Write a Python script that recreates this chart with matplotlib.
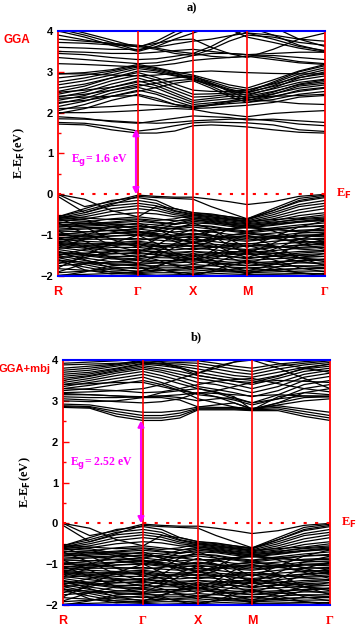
import numpy as np
import matplotlib
matplotlib.use("Agg")
import matplotlib.pyplot as plt

# high symmetry points along the path
kpt_labels = ["R", "Γ", "X", "M", "Γ"]
kpt_dist = [0.0, 0.30, 0.506, 0.708, 1.0]

# band energies (eV) read at R, 1/3, 2/3, Γ, 1/3, 2/3, X, 1/3, 2/3, M, 1/3, 2/3, Γ
valence = [
    [0.00, -0.30, -0.18, -0.02, -0.05, -0.07, -0.07, -0.12, -0.18, -0.25, -0.18, -0.05, 0.00],
    [-0.05, -0.45, -0.25, -0.05, -0.08, -0.10, -0.12, -0.30, -0.45, -0.60, -0.35, -0.10, -0.02],
    [0.00, -0.12, -0.40, -0.55, -0.30, -0.35, -0.45, -0.48, -0.55, -0.62, -0.40, -0.15, -0.05],
    [-0.55, -0.35, -0.15, -0.08, -0.15, -0.35, -0.45, -0.50, -0.55, -0.60, -0.40, -0.18, -0.08],
    [-0.55, -0.40, -0.22, -0.15, -0.22, -0.40, -0.48, -0.52, -0.58, -0.62, -0.45, -0.25, -0.15],
    [-0.58, -0.45, -0.28, -0.22, -0.28, -0.42, -0.50, -0.55, -0.60, -0.65, -0.50, -0.30, -0.22],
    [-0.60, -0.50, -0.35, -0.28, -0.34, -0.46, -0.52, -0.58, -0.62, -0.68, -0.55, -0.38, -0.28],
    [-0.62, -0.55, -0.42, -0.35, -0.40, -0.50, -0.55, -0.60, -0.65, -0.70, -0.60, -0.45, -0.35],
    [-0.65, -0.60, -0.50, -0.45, -0.48, -0.55, -0.58, -0.62, -0.68, -0.72, -0.65, -0.52, -0.45],
    [-0.70, -0.68, -0.60, -0.55, -0.60, -0.65, -0.62, -0.66, -0.72, -0.78, -0.70, -0.60, -0.55],
    [-0.75, -0.72, -0.68, -0.62, -0.68, -0.72, -0.70, -0.72, -0.78, -0.82, -0.76, -0.68, -0.62],
    [-0.80, -0.78, -0.75, -0.72, -0.75, -0.80, -0.75, -0.78, -0.85, -0.90, -0.82, -0.75, -0.70],
    [-0.85, -0.82, -0.80, -0.80, -0.82, -0.85, -0.80, -0.85, -0.90, -0.95, -0.88, -0.80, -0.78],
    [-0.90, -0.92, -0.88, -0.85, -0.90, -0.92, -0.88, -0.92, -0.98, -1.00, -0.95, -0.88, -0.85],
    [-0.95, -0.98, -0.95, -0.92, -0.96, -1.00, -0.95, -1.00, -1.05, -1.08, -1.02, -0.95, -0.92],
    [-1.00, -1.05, -1.02, -1.00, -1.05, -1.08, -1.02, -1.08, -1.12, -1.15, -1.08, -1.02, -1.00],
    [-1.05, -1.10, -1.10, -1.08, -1.12, -1.15, -1.10, -1.15, -1.20, -1.22, -1.15, -1.10, -1.08],
    [-1.10, -1.15, -1.18, -1.15, -1.20, -1.22, -1.18, -1.22, -1.25, -1.28, -1.22, -1.18, -1.15],
    [-1.15, -1.20, -1.25, -1.22, -1.26, -1.30, -1.25, -1.28, -1.32, -1.35, -1.30, -1.25, -1.22],
    [-1.20, -1.25, -1.30, -1.30, -1.34, -1.36, -1.32, -1.35, -1.40, -1.42, -1.38, -1.32, -1.30],
    [-1.25, -1.32, -1.38, -1.38, -1.40, -1.42, -1.40, -1.42, -1.45, -1.48, -1.45, -1.40, -1.38],
    [-1.30, -1.38, -1.45, -1.45, -1.48, -1.50, -1.45, -1.50, -1.52, -1.55, -1.52, -1.48, -1.45],
    [-1.35, -1.45, -1.52, -1.52, -1.55, -1.56, -1.52, -1.56, -1.60, -1.62, -1.58, -1.55, -1.52],
    [-1.40, -1.50, -1.58, -1.60, -1.62, -1.62, -1.58, -1.62, -1.66, -1.68, -1.65, -1.62, -1.60],
    [-1.45, -1.56, -1.65, -1.68, -1.68, -1.68, -1.65, -1.68, -1.72, -1.75, -1.72, -1.68, -1.68],
    [-1.50, -1.62, -1.72, -1.75, -1.75, -1.75, -1.72, -1.75, -1.78, -1.80, -1.78, -1.75, -1.75],
    [-1.55, -1.68, -1.78, -1.82, -1.80, -1.80, -1.78, -1.82, -1.85, -1.86, -1.84, -1.82, -1.82],
    [-1.60, -1.72, -1.85, -1.88, -1.86, -1.86, -1.85, -1.88, -1.90, -1.92, -1.90, -1.88, -1.88],
    [-1.65, -1.78, -1.90, -1.94, -1.92, -1.92, -1.90, -1.93, -1.95, -1.96, -1.95, -1.94, -1.94],
    [-0.60, -0.80, -1.10, -1.30, -1.10, -0.85, -0.70, -0.85, -1.10, -1.30, -1.05, -0.80, -0.65],
    [-1.20, -1.00, -0.80, -0.70, -0.85, -1.05, -1.20, -1.05, -0.85, -0.75, -0.90, -1.10, -1.25],
    [-1.80, -1.50, -1.20, -1.00, -1.20, -1.45, -1.60, -1.40, -1.15, -1.00, -1.25, -1.55, -1.75],
    [-1.05, -1.30, -1.55, -1.70, -1.50, -1.30, -1.15, -1.35, -1.55, -1.70, -1.50, -1.25, -1.10],
    [-1.50, -1.35, -1.25, -1.20, -1.35, -1.50, -1.62, -1.50, -1.35, -1.25, -1.40, -1.55, -1.65],
    [-0.70, -0.95, -1.25, -1.40, -1.25, -1.00, -0.85, -1.00, -1.25, -1.45, -1.20, -0.95, -0.80],
    [-1.90, -1.70, -1.55, -1.48, -1.60, -1.75, -1.85, -1.70, -1.55, -1.45, -1.60, -1.80, -1.90],
    [-1.30, -1.10, -0.95, -0.90, -1.00, -1.15, -1.30, -1.15, -1.00, -0.95, -1.05, -1.20, -1.35],
    [-1.60, -1.85, -1.95, -1.90, -1.75, -1.62, -1.55, -1.70, -1.85, -1.95, -1.80, -1.65, -1.58],
    [-0.90, -1.15, -1.40, -1.55, -1.40, -1.20, -1.05, -1.20, -1.40, -1.55, -1.35, -1.10, -0.95],
    [-1.70, -1.55, -1.40, -1.35, -1.45, -1.58, -1.70, -1.60, -1.45, -1.35, -1.50, -1.65, -1.72],
    [-0.80, -0.75, -0.72, -0.75, -0.85, -0.95, -1.00, -0.92, -0.85, -0.80, -0.85, -0.92, -0.95],
    [-1.00, -0.92, -0.88, -0.90, -0.98, -1.10, -1.15, -1.10, -1.00, -0.95, -1.00, -1.08, -1.12],
    [-2.00, -1.90, -1.75, -1.70, -1.80, -1.92, -2.00, -1.88, -1.75, -1.65, -1.78, -1.92, -2.00],
    [-1.40, -1.60, -1.80, -1.90, -1.78, -1.60, -1.45, -1.60, -1.78, -1.88, -1.72, -1.55, -1.45],
    [-0.52, -0.58, -0.62, -0.60, -0.64, -0.60, -0.50, -0.55, -0.62, -0.66, -0.62, -0.58, -0.50],
    [-0.68, -0.72, -0.70, -0.66, -0.70, -0.74, -0.66, -0.70, -0.74, -0.76, -0.72, -0.66, -0.60],
    [-0.88, -0.85, -0.82, -0.78, -0.80, -0.84, -0.90, -0.88, -0.84, -0.82, -0.86, -0.90, -0.88],
    [-0.98, -1.02, -1.08, -1.12, -1.08, -1.02, -0.98, -1.02, -1.08, -1.12, -1.06, -1.00, -0.98],
    [-1.12, -1.08, -1.02, -0.98, -1.02, -1.10, -1.18, -1.12, -1.05, -1.02, -1.08, -1.15, -1.18],
    [-1.22, -1.28, -1.35, -1.40, -1.32, -1.25, -1.20, -1.26, -1.32, -1.38, -1.30, -1.24, -1.20],
    [-1.32, -1.28, -1.22, -1.18, -1.24, -1.30, -1.36, -1.30, -1.24, -1.20, -1.26, -1.34, -1.38],
    [-1.42, -1.48, -1.55, -1.58, -1.52, -1.46, -1.40, -1.46, -1.52, -1.58, -1.50, -1.44, -1.40],
    [-1.55, -1.50, -1.46, -1.42, -1.48, -1.54, -1.58, -1.54, -1.48, -1.44, -1.50, -1.56, -1.60],
    [-1.62, -1.66, -1.70, -1.72, -1.68, -1.64, -1.60, -1.66, -1.70, -1.74, -1.68, -1.62, -1.60],
    [-1.75, -1.70, -1.66, -1.62, -1.66, -1.72, -1.78, -1.74, -1.68, -1.64, -1.70, -1.76, -1.80],
    [-1.82, -1.86, -1.90, -1.92, -1.88, -1.84, -1.80, -1.84, -1.88, -1.90, -1.86, -1.82, -1.80],
    [-1.92, -1.88, -1.82, -1.78, -1.84, -1.90, -1.95, -1.90, -1.84, -1.80, -1.86, -1.92, -1.96],
    [-1.98, -1.96, -1.94, -1.96, -1.98, -1.97, -1.96, -1.98, -1.99, -1.98, -1.97, -1.98, -1.98],
    [-0.56, -0.62, -0.74, -0.85, -0.78, -0.66, -0.58, -0.64, -0.70, -0.74, -0.68, -0.62, -0.58],
    [-0.62, -0.66, -0.80, -0.95, -0.88, -0.72, -0.62, -0.68, -0.75, -0.80, -0.74, -0.68, -0.64],
    [-0.75, -0.80, -0.90, -1.00, -0.92, -0.82, -0.76, -0.80, -0.88, -0.92, -0.85, -0.80, -0.76],
    [-1.08, -1.02, -0.96, -0.94, -1.00, -1.04, -1.06, -1.04, -1.02, -1.05, -1.04, -1.02, -1.04],
    [-1.18, -1.22, -1.20, -1.26, -1.28, -1.24, -1.28, -1.30, -1.28, -1.25, -1.28, -1.30, -1.26],
    [-1.48, -1.44, -1.40, -1.36, -1.42, -1.46, -1.50, -1.46, -1.42, -1.40, -1.44, -1.50, -1.52],
]

conduction_gga = [
    [1.72, 1.70, 1.58, 1.50, 1.50, 1.55, 1.68, 1.70, 1.68, 1.65, 1.58, 1.52, 1.50],
    [1.76, 1.74, 1.66, 1.55, 1.60, 1.68, 1.75, 1.77, 1.76, 1.75, 1.70, 1.58, 1.54],
    [1.85, 1.84, 1.80, 1.76, 1.74, 1.76, 1.80, 1.82, 1.84, 1.85, 1.80, 1.72, 1.68],
    [1.90, 1.86, 1.78, 1.74, 1.80, 1.86, 1.92, 1.90, 1.88, 1.82, 1.84, 1.80, 1.76],
    [1.98, 2.10, 2.30, 2.45, 2.35, 2.20, 2.10, 2.12, 2.15, 2.18, 2.25, 2.38, 2.42],
    [2.05, 2.20, 2.40, 2.55, 2.45, 2.28, 2.15, 2.18, 2.22, 2.25, 2.32, 2.45, 2.52],
    [2.15, 2.28, 2.48, 2.62, 2.50, 2.35, 2.20, 2.24, 2.28, 2.30, 2.40, 2.52, 2.60],
    [2.22, 2.35, 2.55, 2.70, 2.60, 2.42, 2.25, 2.30, 2.34, 2.35, 2.46, 2.60, 2.68],
    [2.30, 2.42, 2.62, 2.78, 2.66, 2.48, 2.30, 2.35, 2.40, 2.40, 2.52, 2.68, 2.76],
    [2.38, 2.50, 2.70, 2.85, 2.72, 2.55, 2.38, 2.40, 2.45, 2.45, 2.58, 2.74, 2.82],
    [2.45, 2.58, 2.78, 2.92, 2.80, 2.62, 2.45, 2.46, 2.48, 2.50, 2.64, 2.80, 2.90],
    [2.52, 2.65, 2.85, 2.98, 2.86, 2.70, 2.55, 2.52, 2.52, 2.55, 2.70, 2.86, 2.95],
    [2.60, 2.70, 2.85, 3.02, 2.98, 2.90, 2.82, 2.70, 2.55, 2.42, 2.60, 2.85, 3.00],
    [2.68, 2.78, 2.92, 3.08, 3.02, 2.92, 2.85, 2.72, 2.58, 2.48, 2.66, 2.90, 3.05],
    [2.75, 2.85, 2.98, 3.12, 3.05, 2.95, 2.88, 2.76, 2.62, 2.55, 2.72, 2.95, 3.10],
    [2.85, 2.92, 3.02, 3.15, 3.08, 2.98, 2.80, 2.68, 2.55, 2.50, 2.75, 3.00, 3.15],
    [2.95, 2.98, 3.05, 3.18, 3.10, 3.00, 2.92, 2.80, 2.68, 2.60, 2.80, 3.02, 3.18],
    [2.40, 2.45, 2.55, 2.65, 2.72, 2.78, 2.82, 2.65, 2.45, 2.30, 2.45, 2.65, 2.72],
    [2.25, 2.30, 2.40, 2.52, 2.62, 2.72, 2.78, 2.60, 2.40, 2.25, 2.38, 2.55, 2.62],
    [2.50, 2.55, 2.62, 2.75, 2.80, 2.85, 2.90, 2.72, 2.52, 2.35, 2.50, 2.70, 2.80],
    [2.10, 2.12, 2.15, 2.20, 2.18, 2.15, 2.12, 2.18, 2.25, 2.32, 2.28, 2.22, 2.20],
    [2.00, 2.00, 2.02, 2.05, 2.08, 2.10, 2.08, 2.00, 1.95, 1.90, 1.98, 2.02, 2.05],
    [2.35, 2.38, 2.40, 2.42, 2.30, 2.20, 2.15, 2.20, 2.28, 2.38, 2.40, 2.42, 2.45],
    [2.95, 2.95, 2.92, 2.90, 2.92, 2.96, 3.00, 3.02, 3.00, 2.98, 2.96, 2.95, 2.95],
    [3.45, 3.42, 3.35, 3.30, 3.32, 3.38, 3.45, 3.38, 3.35, 3.38, 3.40, 3.35, 3.30],
    [3.50, 3.48, 3.45, 3.45, 3.48, 3.52, 3.55, 3.50, 3.45, 3.42, 3.45, 3.48, 3.48],
    [3.35, 3.30, 3.25, 3.20, 3.22, 3.30, 3.40, 3.45, 3.45, 3.42, 3.35, 3.25, 3.20],
    [4.00, 3.85, 3.65, 3.50, 3.62, 3.80, 3.95, 4.10, 4.20, 4.10, 3.90, 3.65, 3.50],
    [4.05, 3.90, 3.72, 3.52, 3.68, 3.90, 4.10, 4.20, 4.10, 3.95, 3.80, 3.62, 3.52],
    [4.10, 3.95, 3.78, 3.60, 3.75, 3.98, 4.20, 4.25, 4.05, 3.85, 3.72, 3.58, 3.48],
    [3.90, 3.78, 3.68, 3.62, 3.70, 3.78, 3.80, 3.60, 3.45, 3.35, 3.55, 3.80, 3.95],
    [3.80, 3.75, 3.70, 3.65, 3.58, 3.50, 3.45, 3.62, 3.85, 4.05, 4.10, 3.80, 3.62],
    [3.72, 3.70, 3.66, 3.62, 3.55, 3.45, 3.40, 3.55, 3.75, 3.90, 3.85, 3.72, 3.65],
    [3.60, 3.58, 3.55, 3.55, 3.60, 3.68, 3.75, 3.80, 3.88, 3.95, 3.90, 3.80, 3.75],
    [3.20, 3.18, 3.15, 3.12, 3.15, 3.20, 3.28, 3.32, 3.35, 3.38, 3.30, 3.22, 3.18],
]

conduction_mbj = [
    [2.84, 2.82, 2.62, 2.52, 2.52, 2.58, 2.78, 2.78, 2.78, 2.76, 2.76, 2.62, 2.52],
    [2.86, 2.84, 2.68, 2.58, 2.58, 2.64, 2.80, 2.80, 2.80, 2.78, 2.80, 2.68, 2.58],
    [2.88, 2.86, 2.74, 2.64, 2.64, 2.70, 2.82, 2.82, 2.82, 2.80, 2.84, 2.74, 2.64],
    [2.92, 2.90, 2.80, 2.72, 2.72, 2.76, 2.85, 2.84, 2.84, 2.82, 2.88, 2.80, 2.72],
    [3.00, 2.98, 3.00, 3.08, 3.08, 3.02, 2.85, 2.90, 2.95, 2.80, 2.95, 3.08, 3.10],
    [3.10, 3.08, 3.08, 3.10, 3.12, 3.08, 3.00, 3.05, 3.08, 2.95, 3.05, 3.12, 3.12],
    [3.18, 3.15, 3.12, 3.08, 3.20, 3.25, 3.30, 3.22, 3.10, 2.78, 3.10, 3.20, 3.15],
    [3.25, 3.30, 3.40, 3.50, 3.40, 3.25, 3.05, 2.95, 2.85, 2.78, 2.95, 3.20, 3.30],
    [3.30, 3.38, 3.48, 3.58, 3.45, 3.30, 3.15, 3.10, 3.02, 2.90, 3.05, 3.30, 3.40],
    [3.35, 3.45, 3.55, 3.65, 3.55, 3.42, 3.30, 3.20, 3.05, 2.95, 3.15, 3.40, 3.50],
    [3.40, 3.50, 3.62, 3.72, 3.62, 3.50, 3.35, 3.28, 3.20, 3.10, 3.25, 3.50, 3.60],
    [3.45, 3.55, 3.68, 3.78, 3.70, 3.58, 3.45, 3.40, 3.30, 3.20, 3.35, 3.58, 3.68],
    [3.50, 3.60, 3.72, 3.82, 3.75, 3.65, 3.55, 3.48, 3.40, 3.30, 3.45, 3.65, 3.75],
    [3.55, 3.62, 3.75, 3.86, 3.80, 3.72, 3.62, 3.55, 3.48, 3.40, 3.55, 3.72, 3.80],
    [3.60, 3.66, 3.78, 3.90, 3.86, 3.80, 3.70, 3.62, 3.55, 3.50, 3.62, 3.78, 3.85],
    [3.65, 3.70, 3.80, 3.92, 3.90, 3.85, 3.78, 3.70, 3.62, 3.58, 3.70, 3.82, 3.90],
    [3.70, 3.75, 3.85, 3.95, 3.92, 3.90, 3.85, 3.78, 3.70, 3.65, 3.78, 3.88, 3.94],
    [3.75, 3.80, 3.88, 3.98, 3.96, 3.94, 3.92, 3.85, 3.78, 3.72, 3.85, 3.92, 3.98],
    [3.80, 3.85, 3.90, 4.00, 4.00, 3.98, 3.98, 3.92, 3.85, 3.80, 3.90, 3.96, 4.00],
    [3.88, 3.90, 3.92, 3.95, 3.90, 3.80, 3.62, 3.55, 3.48, 3.45, 3.60, 3.80, 3.90],
    [3.92, 3.95, 3.98, 4.02, 3.95, 3.82, 3.68, 3.80, 3.95, 4.05, 3.92, 3.80, 3.70],
    [3.20, 3.22, 3.25, 3.30, 3.40, 3.55, 3.68, 3.85, 3.95, 4.00, 3.80, 3.55, 3.30],
    [3.30, 3.28, 3.25, 3.20, 3.22, 3.30, 3.40, 3.48, 3.52, 3.55, 3.42, 3.30, 3.22],
    [3.40, 3.42, 3.45, 3.45, 3.35, 3.25, 3.18, 3.25, 3.35, 3.45, 3.50, 3.48, 3.45],
    [3.15, 3.15, 3.12, 3.10, 3.12, 3.15, 3.20, 3.18, 3.15, 3.12, 3.15, 3.12, 3.10],
    [3.05, 3.02, 2.98, 2.95, 2.98, 3.05, 3.20, 3.10, 2.95, 2.80, 2.90, 3.00, 3.05],
]

panel_titles = ["a)", "b)"]
method_labels = ["GGA", "GGA+mbj"]
gaps = [1.6, 2.52]
gap_texts = ["E$_\\mathbf{g}$= 1.6 eV", "E$_\\mathbf{g}$= 2.52 eV"]

# k positions of the sample points (3 steps per segment)
kx = [kpt_dist[0]]
for i in range(len(kpt_dist) - 1):
    kx += list(np.linspace(kpt_dist[i], kpt_dist[i + 1], 4)[1:])
kx = np.array(kx)

fig = plt.figure(figsize=(3.6, 6.27), dpi=100)
axes_rects = [[0.161, 0.5598, 0.742, 0.3908], [0.175, 0.0351, 0.742, 0.3907]]
label_pos = [(0.046, 0.936), (0.068, 0.4115)]
label_size = [8.5, 8]
ylabel_x = [-0.116, -0.112]
conductions = [conduction_gga, conduction_mbj]

for p in range(2):
    ax = fig.add_axes(axes_rects[p])
    for band in valence + conductions[p]:
        ax.plot(kx, band, color="black", lw=0.9)

    ax.set_xlim(0, 1)
    ax.set_ylim(-2, 4)
    for xk in kpt_dist[1:-1]:
        ax.axvline(xk, color="red", lw=1.2, zorder=3)
    ax.plot([0, 1], [0, 0], color="red", lw=1.5, ls=(0, (1.5, 4)), zorder=3)

    for side in ["left", "right"]:
        ax.spines[side].set_color("red")
        ax.spines[side].set_linewidth(1.3)
    for side in ["top", "bottom"]:
        ax.spines[side].set_color("blue")
        ax.spines[side].set_linewidth(1.5)

    ax.set_yticks(range(-2, 5))
    ax.set_yticks(np.arange(-2, 4.01, 0.5), minor=True)
    ax.tick_params(axis="y", which="both", direction="in", color="red",
                   labelsize=8, width=1.0, pad=3.5)
    ax.tick_params(axis="y", which="major", length=4)
    ax.tick_params(axis="y", which="minor", length=2.5)
    for t in ax.get_yticklabels():
        t.set_fontweight("bold")
        t.set_family("Liberation Sans")
    ax.set_xticks([])
    for xk, lab in zip(kpt_dist, kpt_labels):
        fam = "Liberation Serif" if lab == "Γ" else "Liberation Sans"
        ax.text(xk, -2.4, lab, color="red", ha="center", va="center",
                fontsize=9, fontweight="bold", family=fam)

    ax.set_ylabel("E-E$_\\mathbf{F}$(eV)", fontsize=9, fontweight="bold",
                  family="Liberation Serif")
    ax.yaxis.set_label_coords(ylabel_x[p], 0.5)
    ax.text(1.04, 0, "E$_\\mathbf{F}$", color="red", fontsize=9, fontweight="bold",
            family="Liberation Serif", va="center", ha="left",
            transform=ax.get_yaxis_transform())
    fig.text(label_pos[p][0], label_pos[p][1], method_labels[p], color="red",
             fontsize=label_size[p], fontweight="bold", family="Liberation Sans",
             ha="center", va="center")
    ax.set_title(panel_titles[p], fontsize=9, fontweight="bold",
                 family="Liberation Serif", pad=14)

    # band gap arrow at Γ
    xa = kpt_dist[1] - 0.008
    ax.annotate("", xy=(xa, 0), xytext=(xa, gaps[p]),
                arrowprops=dict(arrowstyle="<|-|>", color="#ff00ff", lw=1.5,
                                shrinkA=0, shrinkB=0, mutation_scale=9),
                zorder=4)
    ax.text(xa - 0.03, 0.83 if p == 0 else 1.49, gap_texts[p], color="#ff00ff",
            fontsize=8.5, fontweight="bold", family="Liberation Serif",
            ha="right", va="center")

fig.savefig("out.png", dpi=100)
